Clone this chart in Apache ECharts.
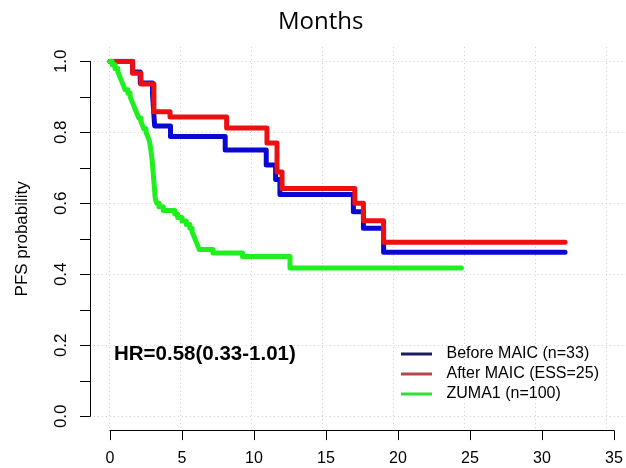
<!DOCTYPE html>
<html>
<head>
<meta charset="utf-8">
<script src="https://cdn.jsdelivr.net/npm/echarts@6/dist/echarts.min.js"></script>
<style>html,body{margin:0;padding:0;background:#fff}#c{width:626px;height:468px}</style>
</head>
<body>
<div id="c"></div>
<script>
// ---- data ----
var titleText = 'Months';
var yName = 'PFS probability';
var hrText = 'HR=0.58(0.33-1.01)';
var xTicks = [0, 5, 10, 15, 20, 25, 30, 35];
var yTicks = [0, 0.2, 0.4, 0.6, 0.8, 1.0];
var seriesNames = ['Before MAIC (n=33)', 'After MAIC (ESS=25)', 'ZUMA1 (n=100)'];

var beforeTime = [0, 1.57, 2.1, 2.95, 3.0, 3.1, 4.2, 8.0, 10.85, 11.5, 11.8, 16.9, 17.6, 19.0, 31.6];
var beforeSurv = [1.0, 0.970, 0.939, 0.909, 0.879, 0.818, 0.788, 0.750, 0.708, 0.667, 0.625, 0.576, 0.530, 0.462, 0.462];

var afterTime = [0, 1.57, 2.15, 3.05, 4.17, 8.1, 10.9, 11.6, 11.95, 17.0, 17.6, 19.0, 31.6];
var afterSurv = [1.0, 0.966, 0.936, 0.858, 0.843, 0.812, 0.770, 0.688, 0.642, 0.600, 0.551, 0.490, 0.490];

var zumaTime = [0, 0.15, 0.35, 0.55, 0.65, 0.75, 0.85, 0.95, 1.05, 1.25, 1.4, 1.5, 1.6, 1.7, 1.8, 1.9, 2.0, 2.15, 2.25, 2.35, 2.5, 2.6, 2.7, 2.76, 2.8, 2.84, 2.87, 2.9, 2.93, 2.95, 2.97, 2.99, 3.01, 3.03, 3.05, 3.07, 3.09, 3.11, 3.13, 3.16, 3.25, 3.4, 3.7, 4.5, 4.7, 5.0, 5.3, 5.55, 5.7, 5.8, 5.9, 6.0, 6.1, 6.2, 7.15, 9.2, 12.5, 24.4];
var zumaSurv = [1.00, 0.99, 0.98, 0.97, 0.96, 0.95, 0.94, 0.93, 0.92, 0.91, 0.90, 0.89, 0.88, 0.87, 0.86, 0.85, 0.84, 0.83, 0.82, 0.81, 0.80, 0.79, 0.78, 0.77, 0.76, 0.75, 0.74, 0.73, 0.72, 0.71, 0.70, 0.69, 0.68, 0.67, 0.66, 0.65, 0.64, 0.63, 0.62, 0.61, 0.60, 0.59, 0.58, 0.57, 0.56, 0.55, 0.54, 0.53, 0.52, 0.51, 0.50, 0.49, 0.48, 0.47, 0.46, 0.45, 0.418, 0.418];

// ---- layout ----
var F = '"Liberation Sans", Arial, sans-serif';
var gL = 110, gR = 614, gT = 61.3, gB = 416.3;
var pxX = (gR - gL) / 35, pxY = (gB - gT);
var extX = 1.4, extY = 0.04;

function pairs(t, s) { return t.map(function (v, i) { return [v, s[i]]; }); }

var chart = echarts.init(document.getElementById('c'), null, {renderer: 'canvas'});
var colors = ['#0808d2', '#ec1010', '#1fee1f'];
var legendColors = ['#1c1c62', '#b84646', '#33dd33'];

chart.setOption({
  animation: false,
  backgroundColor: '#fff',
  grid: [
    {left: gL, top: gT, width: gR - gL, height: gB - gT},
    {left: gL - extX * pxX, top: gT - extY * pxY, width: (gR - gL) + 2 * extX * pxX, height: pxY * (1 + 2 * extY)}
  ],
  xAxis: [
    {gridIndex: 0, type: 'value', min: 0, max: 35, interval: 5, offset: 14.3,
     axisLine: {show: true, onZero: false, lineStyle: {color: '#000', width: 1}},
     axisTick: {show: true, length: 9.5, lineStyle: {color: '#000'}},
     axisLabel: {margin: 20, fontFamily: F, fontSize: 16, color: '#000'},
     splitLine: {show: false}},
    {gridIndex: 1, type: 'value', min: -extX, max: 35 + extX,
     axisLine: {show: false}, axisLabel: {show: false},
     axisTick: {show: false, customValues: xTicks},
     splitLine: {show: true, lineStyle: {color: '#cfcfcf', type: [1, 3], width: 1}}}
  ],
  yAxis: [
    {gridIndex: 0, type: 'value', min: 0, max: 1, interval: 0.1, offset: gL - 90,
     name: yName, nameLocation: 'middle', nameRotate: 90, nameGap: 59,
     nameTextStyle: {fontFamily: F, fontSize: 17, color: '#000'},
     axisLine: {show: true, onZero: false, lineStyle: {color: '#000', width: 1}},
     axisTick: {show: true, length: 10, lineStyle: {color: '#000'}},
     axisLabel: {rotate: 90, margin: 20, fontFamily: F, fontSize: 17, color: '#000',
       formatter: function (v) {
         var r = Math.round(v * 10);
         return (r % 2 === 0) ? (r / 10).toFixed(1) : '';
       }},
     splitLine: {show: false}},
    {gridIndex: 1, type: 'value', min: -extY, max: 1 + extY,
     axisLine: {show: false}, axisLabel: {show: false},
     axisTick: {show: false, customValues: yTicks},
     splitLine: {show: true, lineStyle: {color: '#cfcfcf', type: [1, 3], width: 1}}}
  ],
  legend: {
    orient: 'vertical', left: 401, top: 344, itemGap: 0, padding: 0,
    itemWidth: 31, itemHeight: 3, icon: 'rect',
    textStyle: {fontFamily: F, fontSize: 16, color: '#000', lineHeight: 20, padding: [0, 0, 0, 9.5]},
    data: seriesNames.map(function (n, i) { return {name: n, itemStyle: {color: legendColors[i]}}; })
  },
  graphic: [
    {type: 'text', left: 278, top: 10, z: 10,
     style: {text: titleText, font: '24px "Open Sans", sans-serif', fill: '#000'}},
    {type: 'text', left: 114, top: 344, z: 10,
     style: {text: hrText, font: 'bold 20.5px "Liberation Sans", Arial, sans-serif', fill: '#000'}}
  ],
  series: [
    {name: seriesNames[0], type: 'line', xAxisIndex: 0, yAxisIndex: 0, step: 'end', showSymbol: false,
     data: pairs(beforeTime, beforeSurv), color: colors[0],
     lineStyle: {color: colors[0], width: 5, cap: 'round', join: 'round'}},
    {name: seriesNames[1], type: 'line', xAxisIndex: 0, yAxisIndex: 0, step: 'end', showSymbol: false,
     data: pairs(afterTime, afterSurv), color: colors[1],
     lineStyle: {color: colors[1], width: 5, cap: 'round', join: 'round'}},
    {name: seriesNames[2], type: 'line', xAxisIndex: 0, yAxisIndex: 0, step: 'end', showSymbol: false,
     data: pairs(zumaTime, zumaSurv), color: colors[2],
     lineStyle: {color: colors[2], width: 5, cap: 'round', join: 'round'}}
  ]
});
</script>
</body>
</html>
